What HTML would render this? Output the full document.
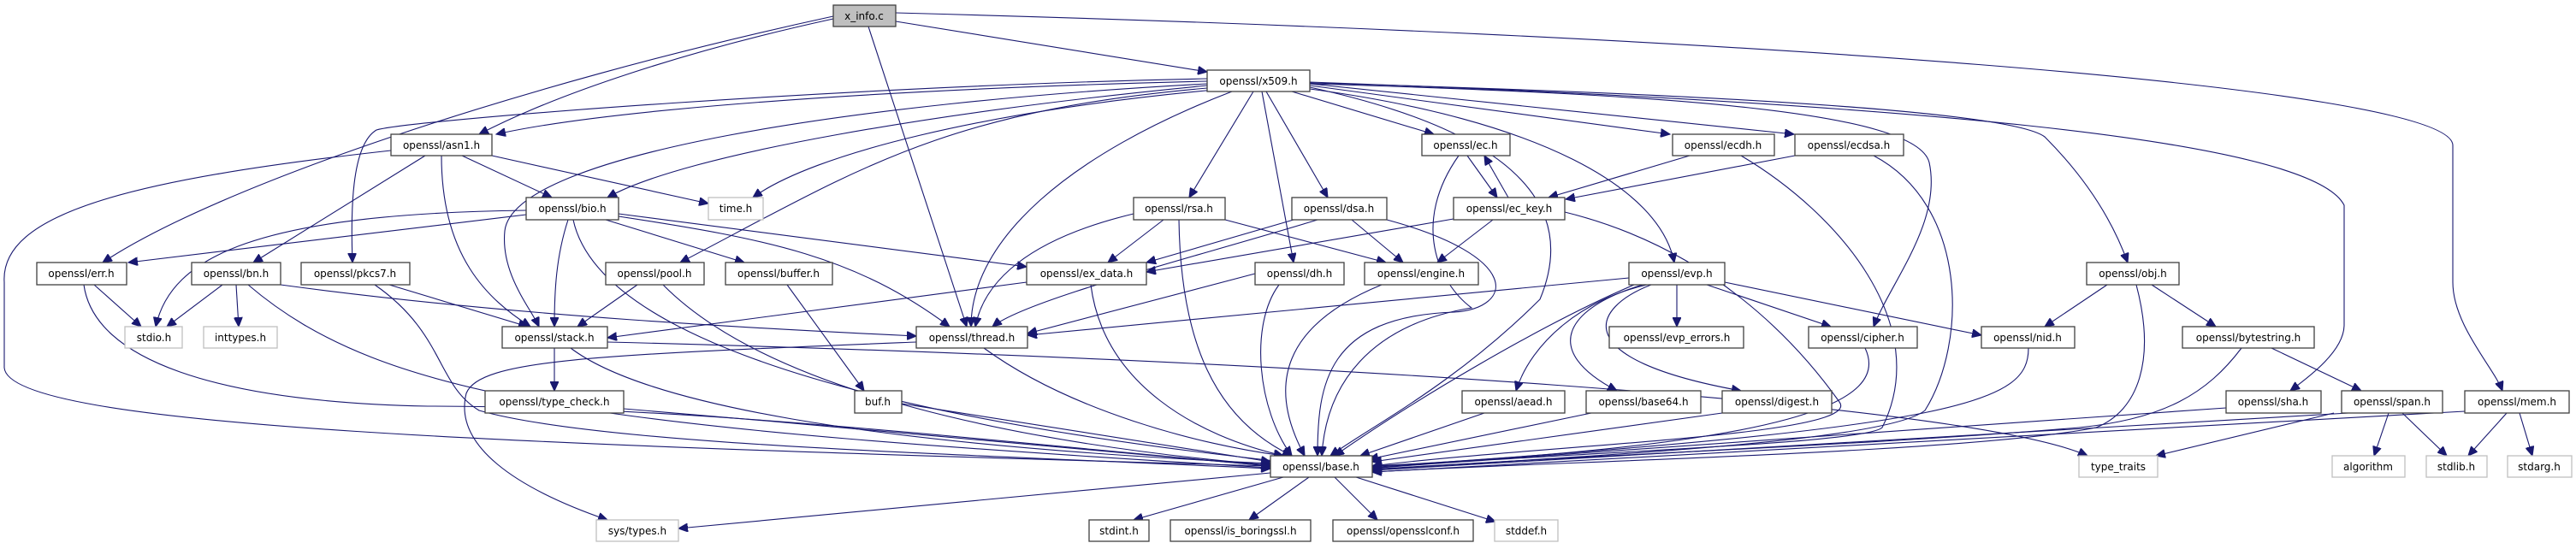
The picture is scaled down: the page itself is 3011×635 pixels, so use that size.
<!DOCTYPE html>
<html><head><meta charset="utf-8"><style>
html,body{margin:0;padding:0;background:#fff;}
svg{display:block}
text{font-family:"DejaVu Sans","Liberation Sans",sans-serif;font-size:12px;fill:#000;text-anchor:middle}
.n rect{fill:#fff;stroke:#404040;stroke-width:1.3}
.g rect{fill:#fff;stroke:#bfbfbf;stroke-width:1.3}
path{fill:none;stroke:#191970;stroke-width:1.1}
</style></head><body>
<svg width="3011" height="635" viewBox="0 0 3011 635" xmlns="http://www.w3.org/2000/svg">
<defs><marker id="a" markerUnits="userSpaceOnUse" markerWidth="12" markerHeight="10" refX="11" refY="5" orient="auto"><path d="M0,0 L11,5 L0,10 z" style="fill:#191970;stroke:#191970"/></marker></defs>
<g marker-end="url(#a)">
<path d="M1047 25 L1411 84"/>
<path d="M974 22 C800 60 650 110 560 157"/>
<path d="M974 19 C600 100 250 220 120 307"/>
<path d="M1015 31 L1130 382"/>
<path d="M1047 15 C2000 40 2867 100 2867 170 L2867 330 C2867 380 2915 430 2925 457"/>
<path d="M1411 95 C1000 105 700 130 580 157"/>
<path d="M1411 92 C1000 100 480 140 440 152 C410 170 410 250 412 307"/>
<path d="M1411 100 C1100 130 800 180 710 231"/>
<path d="M1420 105 C1150 130 950 180 880 231"/>
<path d="M1411 98 C1000 120 600 180 590 270 C585 320 620 360 630 382"/>
<path d="M1411 103 C1100 130 1000 200 795 307"/>
<path d="M1440 107 C1250 180 1135 280 1135 382"/>
<path d="M1465 107 L1390 231"/>
<path d="M1475 107 L1512 307"/>
<path d="M1480 107 L1552 231"/>
<path d="M1510 107 L1676 157"/>
<path d="M1531 100 L1952 157"/>
<path d="M1531 98 L2097 157"/>
<path d="M1531 104 C1800 140 1940 220 1957 307"/>
<path d="M1531 102 C1750 150 1850 230 1800 350 C1700 450 1600 500 1555 533"/>
<path d="M1531 98 C1950 110 2240 130 2255 190 C2270 260 2210 330 2190 382"/>
<path d="M1531 97 C2000 110 2350 130 2390 160 C2440 210 2470 260 2487 307"/>
<path d="M1531 96 C2200 120 2700 160 2740 240 L2740 380 C2740 410 2700 440 2677 457"/>
<path d="M457 176 C150 210 0 250 5 330 L5 430 C10 500 600 520 1485 545"/>
<path d="M497 182 L296 307"/>
<path d="M516 182 C516 300 570 350 620 382"/>
<path d="M540 182 L645 231"/>
<path d="M575 182 L828 238"/>
<path d="M615 246 C300 250 200 300 182 382"/>
<path d="M615 251 L150 307"/>
<path d="M723 250 L1200 312"/>
<path d="M708 257 L870 307"/>
<path d="M723 253 C900 280 1000 300 1110 382"/>
<path d="M664 257 C650 300 648 340 648 382"/>
<path d="M670 257 C690 350 850 470 1500 540"/>
<path d="M110 333 L165 382"/>
<path d="M98 333 C110 420 250 470 500 475 C800 475 1100 510 1485 545"/>
<path d="M260 333 L195 382"/>
<path d="M276 333 L279 382"/>
<path d="M290 333 C450 470 700 500 1485 547"/>
<path d="M328 333 C600 370 900 385 1071 393"/>
<path d="M455 333 L617 382"/>
<path d="M438 333 C520 390 510 450 560 480 C700 520 1100 530 1485 548"/>
<path d="M745 333 L675 382"/>
<path d="M775 333 C900 460 1200 520 1485 544"/>
<path d="M648 407 L648 457"/>
<path d="M667 407 C750 470 1000 520 1485 542"/>
<path d="M710 400 C1500 420 2300 470 2440 533"/>
<path d="M729 478 C1000 500 1300 530 1485 545"/>
<path d="M920 333 L1010 457"/>
<path d="M1054 472 L1485 540"/>
<path d="M1200 330 L710 395"/>
<path d="M1275 333 C1290 450 1400 510 1500 533"/>
<path d="M1150 407 C1250 480 1400 520 1500 533"/>
<path d="M1071 400 C700 415 560 420 545 460 C530 520 600 570 710 608"/>
<path d="M1325 250 C1200 280 1150 330 1140 382"/>
<path d="M1360 257 L1295 307"/>
<path d="M1432 257 L1620 307"/>
<path d="M1378 257 C1380 400 1420 490 1510 533"/>
<path d="M1512 257 L1340 307"/>
<path d="M1540 257 C1400 300 1200 350 1160 382"/>
<path d="M1580 257 L1640 307"/>
<path d="M1621 257 C1780 300 1770 360 1700 365 C1550 370 1540 450 1540 533"/>
<path d="M1467 320 L1201 390"/>
<path d="M1495 333 C1460 380 1470 480 1510 533"/>
<path d="M1615 333 C1500 380 1480 450 1525 533"/>
<path d="M1715 182 L1750 231"/>
<path d="M1705 182 C1650 260 1680 330 1720 360 C1600 380 1550 450 1545 533"/>
<path d="M1763 231 L1735 182"/>
<path d="M1745 257 L1680 307"/>
<path d="M1699 256 L1340 318"/>
<path d="M1829 248 C2000 290 2100 400 2150 470 C2180 510 1800 520 1604 545"/>
<path d="M1975 182 L1810 231"/>
<path d="M2035 182 C2150 250 2260 380 2200 500 C2180 520 1800 530 1604 548"/>
<path d="M2098 182 L1830 233"/>
<path d="M2190 182 C2300 240 2300 400 2250 480 C2200 520 1800 535 1604 550"/>
<path d="M1904 325 L1201 392"/>
<path d="M1960 333 L1960 382"/>
<path d="M1995 333 L2140 382"/>
<path d="M2016 330 L2316 392"/>
<path d="M1925 333 C1850 350 1790 400 1772 457"/>
<path d="M1920 333 C1830 360 1800 410 1890 457"/>
<path d="M1930 333 C1860 360 1830 420 2035 457"/>
<path d="M1910 333 C1800 380 1650 470 1560 533"/>
<path d="M1735 483 L1590 533"/>
<path d="M1860 483 L1600 537"/>
<path d="M2013 483 L1604 540"/>
<path d="M2180 407 C2210 470 2100 520 1604 545"/>
<path d="M2463 333 L2390 382"/>
<path d="M2515 333 L2590 382"/>
<path d="M2497 333 C2520 420 2500 480 2450 500 C2300 530 1800 540 1604 552"/>
<path d="M2371 407 C2371 470 2300 500 1604 546"/>
<path d="M2655 407 L2760 457"/>
<path d="M2620 407 C2580 460 2530 490 2430 500 C2200 520 1800 535 1604 549"/>
<path d="M2602 477 L1604 547"/>
<path d="M2792 483 L2775 533"/>
<path d="M2808 483 L2860 533"/>
<path d="M2728 483 L2520 533"/>
<path d="M2745 483 L1604 550"/>
<path d="M2930 483 L2885 533"/>
<path d="M2945 483 L2960 533"/>
<path d="M2881 481 L1604 552"/>
<path d="M1485 553 L793 618"/>
<path d="M1500 558 L1325 608"/>
<path d="M1530 558 L1460 608"/>
<path d="M1560 558 L1610 608"/>
<path d="M1585 558 L1748 610"/>
</g>
<g class="n"><rect x="974" y="6" width="73" height="25" style="fill:#bfbfbf"/><text x="1010" y="23">x_info.c</text></g>
<g class="n"><rect x="1411" y="82" width="120" height="25"/><text x="1471" y="99">openssl/x509.h</text></g>
<g class="n"><rect x="457" y="157" width="118" height="25"/><text x="516" y="174">openssl/asn1.h</text></g>
<g class="n"><rect x="1662" y="157" width="103" height="25"/><text x="1713" y="174">openssl/ec.h</text></g>
<g class="n"><rect x="1955" y="157" width="119" height="25"/><text x="2014" y="174">openssl/ecdh.h</text></g>
<g class="n"><rect x="2098" y="157" width="127" height="25"/><text x="2161" y="174">openssl/ecdsa.h</text></g>
<g class="g"><rect x="828" y="231" width="64" height="26"/><text x="860" y="248">time.h</text></g>
<g class="n"><rect x="615" y="231" width="108" height="26"/><text x="669" y="248">openssl/bio.h</text></g>
<g class="n"><rect x="1325" y="231" width="107" height="26"/><text x="1378" y="248">openssl/rsa.h</text></g>
<g class="n"><rect x="1510" y="231" width="111" height="26"/><text x="1565" y="248">openssl/dsa.h</text></g>
<g class="n"><rect x="1699" y="231" width="130" height="26"/><text x="1764" y="248">openssl/ec_key.h</text></g>
<g class="n"><rect x="43" y="307" width="105" height="26"/><text x="95" y="324">openssl/err.h</text></g>
<g class="n"><rect x="224" y="307" width="104" height="26"/><text x="276" y="324">openssl/bn.h</text></g>
<g class="n"><rect x="352" y="307" width="127" height="26"/><text x="415" y="324">openssl/pkcs7.h</text></g>
<g class="n"><rect x="708" y="307" width="115" height="26"/><text x="765" y="324">openssl/pool.h</text></g>
<g class="n"><rect x="848" y="307" width="125" height="26"/><text x="910" y="324">openssl/buffer.h</text></g>
<g class="n"><rect x="1200" y="307" width="140" height="26"/><text x="1270" y="324">openssl/ex_data.h</text></g>
<g class="n"><rect x="1467" y="307" width="104" height="26"/><text x="1519" y="324">openssl/dh.h</text></g>
<g class="n"><rect x="1595" y="307" width="133" height="26"/><text x="1661" y="324">openssl/engine.h</text></g>
<g class="n"><rect x="1904" y="307" width="112" height="26"/><text x="1960" y="324">openssl/evp.h</text></g>
<g class="n"><rect x="2439" y="307" width="108" height="26"/><text x="2493" y="324">openssl/obj.h</text></g>
<g class="g"><rect x="146" y="382" width="67" height="25"/><text x="180" y="399">stdio.h</text></g>
<g class="g"><rect x="238" y="382" width="86" height="25"/><text x="281" y="399">inttypes.h</text></g>
<g class="n"><rect x="587" y="382" width="123" height="25"/><text x="648" y="399">openssl/stack.h</text></g>
<g class="n"><rect x="1071" y="382" width="130" height="25"/><text x="1136" y="399">openssl/thread.h</text></g>
<g class="n"><rect x="1881" y="382" width="157" height="25"/><text x="1960" y="399">openssl/evp_errors.h</text></g>
<g class="n"><rect x="2114" y="382" width="127" height="25"/><text x="2177" y="399">openssl/cipher.h</text></g>
<g class="n"><rect x="2316" y="382" width="109" height="25"/><text x="2370" y="399">openssl/nid.h</text></g>
<g class="n"><rect x="2551" y="382" width="154" height="25"/><text x="2628" y="399">openssl/bytestring.h</text></g>
<g class="n"><rect x="567" y="457" width="162" height="26"/><text x="648" y="474">openssl/type_check.h</text></g>
<g class="n"><rect x="999" y="457" width="55" height="26"/><text x="1026" y="474">buf.h</text></g>
<g class="n"><rect x="1709" y="457" width="120" height="26"/><text x="1769" y="474">openssl/aead.h</text></g>
<g class="n"><rect x="1854" y="457" width="134" height="26"/><text x="1921" y="474">openssl/base64.h</text></g>
<g class="n"><rect x="2013" y="457" width="128" height="26"/><text x="2077" y="474">openssl/digest.h</text></g>
<g class="n"><rect x="2602" y="457" width="111" height="26"/><text x="2657" y="474">openssl/sha.h</text></g>
<g class="n"><rect x="2737" y="457" width="118" height="26"/><text x="2796" y="474">openssl/span.h</text></g>
<g class="n"><rect x="2881" y="457" width="122" height="26"/><text x="2942" y="474">openssl/mem.h</text></g>
<g class="n"><rect x="1485" y="533" width="119" height="25"/><text x="1544" y="550">openssl/base.h</text></g>
<g class="g"><rect x="2430" y="533" width="92" height="25"/><text x="2476" y="550">type_traits</text></g>
<g class="g"><rect x="2726" y="533" width="85" height="25"/><text x="2768" y="550">algorithm</text></g>
<g class="g"><rect x="2836" y="533" width="71" height="25"/><text x="2871" y="550">stdlib.h</text></g>
<g class="g"><rect x="2931" y="533" width="75" height="25"/><text x="2968" y="550">stdarg.h</text></g>
<g class="g"><rect x="697" y="608" width="96" height="25"/><text x="745" y="625">sys/types.h</text></g>
<g class="n"><rect x="1273" y="608" width="70" height="25"/><text x="1308" y="625">stdint.h</text></g>
<g class="n"><rect x="1368" y="608" width="164" height="25"/><text x="1450" y="625">openssl/is_boringssl.h</text></g>
<g class="n"><rect x="1558" y="608" width="164" height="25"/><text x="1640" y="625">openssl/opensslconf.h</text></g>
<g class="g"><rect x="1747" y="608" width="74" height="25"/><text x="1784" y="625">stddef.h</text></g>
</svg>
</body></html>
